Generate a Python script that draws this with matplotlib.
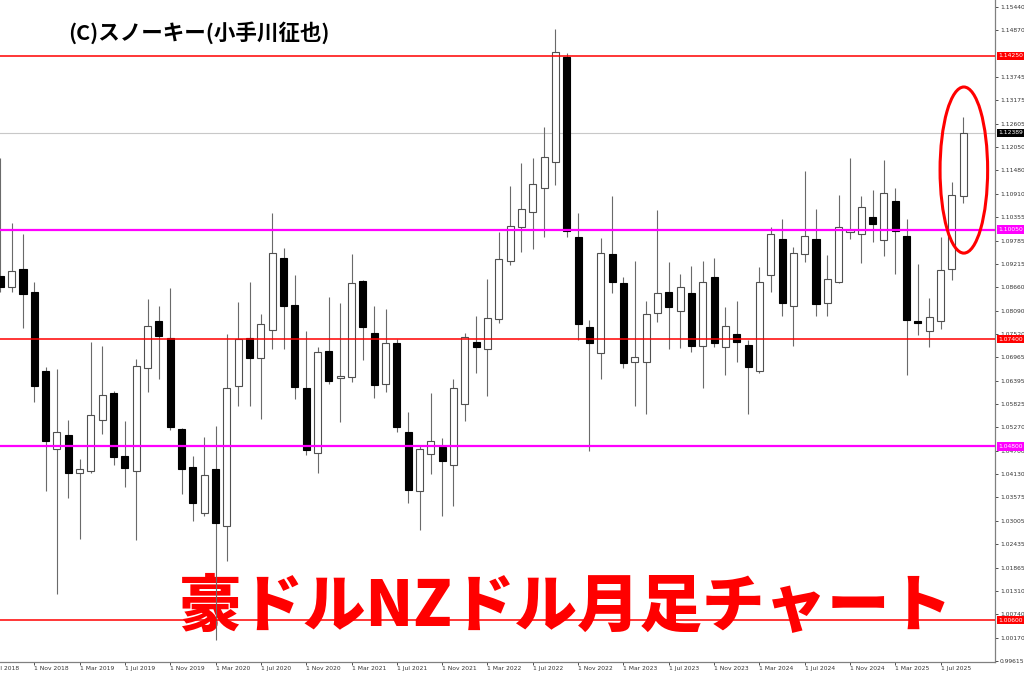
import matplotlib
matplotlib.use("Agg")
import matplotlib.pyplot as plt
import matplotlib.transforms as mtransforms
from matplotlib.patches import Ellipse
import numpy as np
import pandas as pd

# ---------------- data (AUD/NZD monthly, Aug 2018 .. Sep 2025) ----------------
months = pd.period_range("2018-08", "2025-09", freq="M").strftime("%Y-%m").tolist()

opens = [1.0893, 1.0866, 1.0910, 1.0854, 1.0663, 1.0474, 1.0508, 1.0416, 1.0421, 1.0544,
         1.0609, 1.0457, 1.0421, 1.0670, 1.0784, 1.0743, 1.0522, 1.0430, 1.0319, 1.0426,
         1.0288, 1.0626, 1.0743, 1.0694, 1.0762, 1.0936, 1.0822, 1.0622, 1.0464, 1.0711,
         1.0646, 1.0648, 1.0880, 1.0755, 1.0631, 1.0730, 1.0515, 1.0372, 1.0462, 1.0479,
         1.0435, 1.0583, 1.0733, 1.0716, 1.0789, 1.0929, 1.1011, 1.1047, 1.1106, 1.1168,
         1.1423, 1.0987, 1.0769, 1.0706, 1.0946, 1.0876, 1.0685, 1.0685, 1.0803, 1.0854,
         1.0808, 1.0851, 1.0723, 1.0890, 1.0721, 1.0752, 1.0726, 1.0663, 1.0895, 1.0982,
         1.0820, 1.0946, 1.0982, 1.0827, 1.0878, 1.0999, 1.0994, 1.1035, 1.0980, 1.1074,
         1.0989, 1.0784, 1.0760, 1.0784, 1.0910, 1.1086]

highs = [1.1178, 1.1021, 1.0994, 1.0878, 1.0672, 1.0668, 1.0544, 1.0450, 1.0733, 1.0723,
         1.0614, 1.0542, 1.0692, 1.0837, 1.0820, 1.0864, 1.0525, 1.0457, 1.0503, 1.0530,
         1.0752, 1.0830, 1.0878, 1.0801, 1.1045, 1.0960, 1.0895, 1.0760, 1.0721, 1.0842,
         1.0827, 1.0946, 1.0883, 1.0820, 1.0813, 1.0740, 1.0564, 1.0484, 1.0609, 1.0501,
         1.0643, 1.0755, 1.0796, 1.0885, 1.0999, 1.1110, 1.1166, 1.1178, 1.1253, 1.1490,
         1.1432, 1.1045, 1.0786, 1.0985, 1.1086, 1.0890, 1.0929, 1.0832, 1.1052, 1.0926,
         1.0897, 1.0917, 1.0929, 1.0936, 1.0818, 1.0832, 1.0738, 1.0914, 1.1011, 1.1031,
         1.0963, 1.1147, 1.1055, 1.0943, 1.1089, 1.1178, 1.1086, 1.1101, 1.1173, 1.1106,
         1.1031, 1.0922, 1.0839, 1.0987, 1.1120, 1.1277]

lows = [1.0854, 1.0854, 1.0767, 1.0588, 1.0372, 1.0123, 1.0355, 1.0256, 1.0416, 1.0510,
        1.0435, 1.0382, 1.0254, 1.0612, 1.0643, 1.0520, 1.0365, 1.0300, 1.0312, 1.0012,
        1.0203, 1.0578, 1.0578, 1.0547, 1.0716, 1.0716, 1.0595, 1.0459, 1.0416, 1.0631,
        1.0539, 1.0636, 1.0689, 1.0597, 1.0612, 1.0515, 1.0343, 1.0278, 1.0413, 1.0312,
        1.0336, 1.0542, 1.0658, 1.0602, 1.0779, 1.0919, 1.0951, 1.0958, 1.0987, 1.1113,
        1.0987, 1.0738, 1.0469, 1.0643, 1.0851, 1.0670, 1.0578, 1.0559, 1.0781, 1.0716,
        1.0718, 1.0709, 1.0622, 1.0721, 1.0653, 1.0685, 1.0559, 1.0658, 1.0854, 1.0796,
        1.0723, 1.0926, 1.0796, 1.0796, 1.0876, 1.0982, 1.0924, 1.0975, 1.0941, 1.0897,
        1.0653, 1.0750, 1.0721, 1.0764, 1.0883, 1.1069]

closes = [1.0866, 1.0905, 1.0849, 1.0626, 1.0493, 1.0515, 1.0416, 1.0426, 1.0556, 1.0605,
          1.0455, 1.0428, 1.0675, 1.0772, 1.0747, 1.0527, 1.0426, 1.0343, 1.0411, 1.0295,
          1.0622, 1.0740, 1.0694, 1.0776, 1.0948, 1.0820, 1.0624, 1.0472, 1.0709, 1.0639,
          1.0651, 1.0876, 1.0769, 1.0629, 1.0730, 1.0527, 1.0375, 1.0474, 1.0493, 1.0445,
          1.0622, 1.0745, 1.0721, 1.0791, 1.0934, 1.1014, 1.1055, 1.1115, 1.1181, 1.1435,
          1.1001, 1.0776, 1.0730, 1.0948, 1.0878, 1.0682, 1.0697, 1.0801, 1.0851, 1.0818,
          1.0866, 1.0723, 1.0878, 1.0730, 1.0772, 1.0733, 1.0672, 1.0878, 1.0994, 1.0827,
          1.0948, 1.0989, 1.0825, 1.0885, 1.1011, 1.1004, 1.1060, 1.1018, 1.1093, 1.1001,
          1.0786, 1.0779, 1.0793, 1.0907, 1.1089, 1.1239]

xtick_months = ["2018-11", "2019-03", "2019-07", "2019-11", "2020-03", "2020-07", "2020-11",
                "2021-03", "2021-07", "2021-11", "2022-03", "2022-07", "2022-11", "2023-03",
                "2023-07", "2023-11", "2024-03", "2024-07", "2024-11", "2025-03", "2025-07"]
xtick_labels = ["1 Nov 2018", "1 Mar 2019", "1 Jul 2019", "1 Nov 2019", "1 Mar 2020",
                "1 Jul 2020", "1 Nov 2020", "1 Mar 2021", "1 Jul 2021", "1 Nov 2021",
                "1 Mar 2022", "1 Jul 2022", "1 Nov 2022", "1 Mar 2023", "1 Jul 2023",
                "1 Nov 2023", "1 Mar 2024", "1 Jul 2024", "1 Nov 2024", "1 Mar 2025",
                "1 Jul 2025"]
first_partial_label = "1 Jul 2018"

ytick_values = [1.15440, 1.14870, 1.13745, 1.13175, 1.12605, 1.12050, 1.11480, 1.10910,
                1.10355, 1.09785, 1.09215, 1.08660, 1.08090, 1.07520, 1.06965, 1.06395,
                1.05825, 1.05270, 1.04700, 1.04130, 1.03575, 1.03005, 1.02435, 1.01865,
                1.01310, 1.00740, 1.00170, 0.99615]

red_levels = [1.14250, 1.07400, 1.00600]
magenta_levels = [1.10050, 1.04800]
current_price = 1.12389

title_text = "(C)スノーキー(小手川征也)"
banner_text = "豪ドルNZドル月足チャート"

# ---------------- figure ----------------
plt.rcParams['font.family'] = ['DejaVu Sans']
W, H = 1024, 676
fig = plt.figure(figsize=(W / 100, H / 100), dpi=100)
fig.patch.set_facecolor('white')
ax = fig.add_axes([0, 1 - 662 / H, 995 / W, 662 / H])
ax.set_facecolor('white')

x = np.arange(len(months))
o = np.array(opens); h = np.array(highs); l = np.array(lows); c = np.array(closes)
up = c >= o
body_bot = np.minimum(o, c)
body_h = np.abs(c - o)

ax.vlines(x, l, h, color='#6a6a6a', lw=0.8, zorder=2)
ax.bar(x[up], body_h[up], bottom=body_bot[up], width=0.62, color='white',
       edgecolor='#505050', linewidth=0.8, zorder=3)
ax.bar(x[~up], body_h[~up], bottom=body_bot[~up], width=0.62, color='black',
       edgecolor='black', linewidth=0.8, zorder=3)

# horizontal levels
ax.axhline(current_price, color='#c8c8c8', lw=0.8, zorder=1)
for lv in red_levels:
    ax.axhline(lv, color='#ff0000', lw=1.1, zorder=4)
for lv in magenta_levels:
    ax.axhline(lv, color='#ff00ff', lw=1.6, zorder=4)

ax.set_xlim(-0.03, 87.8)
ax.set_ylim(0.99585, 1.15605)

# spines
for s in ['left', 'top']:
    ax.spines[s].set_visible(False)
for s in ['right', 'bottom']:
    ax.spines[s].set_color('#808080')
    ax.spines[s].set_linewidth(0.9)

# y axis on the right
ax.yaxis.tick_right()
ax.set_yticks(ytick_values)
ax.set_yticklabels([f"{v:.5f}" for v in ytick_values])
ax.tick_params(axis='y', length=2, width=0.6, pad=1.5, labelsize=4.3,
               colors='#333333', labelcolor='#333333')

# x axis ticks
xpos = [months.index(m) for m in xtick_months]
ax.set_xticks(xpos)
ax.set_xticklabels(xtick_labels)
ax.tick_params(axis='x', length=2, width=0.6, pad=1.2, labelsize=4.3,
               colors='#333333', labelcolor='#333333')
for lab in ax.get_xticklabels():
    lab.set_horizontalalignment('left')

# partially visible first label (one month before first candle), cut at the edge as in the reference
tr_xb = mtransforms.blended_transform_factory(ax.transData, ax.transAxes)
ax.text(-1, -0.0065, first_partial_label, transform=tr_xb, ha='left', va='top',
        fontsize=4.3, color='#333333', clip_on=False)

# highlighted price labels on the right axis
tr = mtransforms.blended_transform_factory(ax.transAxes, ax.transData)
for lv, col in ([(v, '#ff0000') for v in red_levels] +
                [(v, '#ff00ff') for v in magenta_levels] +
                [(current_price, '#000000')]):
    ax.text(1.0035, lv, f"{lv:.5f}", transform=tr, ha='left', va='center',
            fontsize=4.3, color='white', clip_on=False, zorder=10,
            bbox=dict(boxstyle='square,pad=0.28', fc=col, ec='none'))

# red ellipse around last two candles
ell = Ellipse((85.05, 1.1149), width=4.2, height=0.0402, fill=False,
              ec='#ff0000', lw=2.2, zorder=6, clip_on=False)
ax.add_patch(ell)

# titles
cjk = ['Noto Sans CJK JP', 'DejaVu Sans']
fig.text(68 / W, 1 - 33 / H, title_text, fontsize=15.5, fontweight='bold',
         family=cjk, ha='left', va='center', color='black')
ax.text(178 / W, 1 - 607 / H, banner_text, transform=fig.transFigure,
        fontsize=45, fontweight='black', family=cjk, color='#ff0000',
        ha='left', va='center', zorder=1.5, clip_on=False)

fig.savefig('out.png', dpi=100, facecolor='white')
